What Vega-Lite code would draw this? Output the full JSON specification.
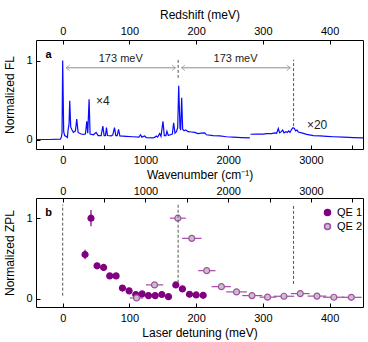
{
  "$schema": "https://vega.github.io/schema/vega-lite/v6.json",
  "padding": {"left": 3, "top": 7, "right": 5, "bottom": 2},
  "spacing": 3,
  "resolve": {"scale": {"fill": "independent", "stroke": "independent", "shape": "independent"}, "legend": {"fill": "independent", "stroke": "independent", "shape": "independent"}},
  "config": {
    "font": "Liberation Sans",
    "view": {"stroke": "black", "strokeWidth": 1},
    "axis": {"domain": false, "grid": false, "tickColor": "black", "tickSize": -4, "labelPadding": 8, "labelFontSize": 11, "labelColor": "black", "titleFontSize": 12, "titleFontWeight": "normal", "titleColor": "black", "labelFlush": false, "labelOverlap": false, "titlePadding": 4},
    "legend": {"labelFontSize": 11, "labelColor": "black", "symbolSize": 36, "padding": 0, "rowPadding": 1, "labelOffset": 4}
  },
  "datasets": {
    "spectrum": [
      {"wn": -322, "fl": 0.0, "seg": 1}, {"wn": -162, "fl": 0.0, "seg": 1}, {"wn": -28, "fl": 0.005, "seg": 1}, {"wn": -16, "fl": 0.03, "seg": 1}, {"wn": -8, "fl": 0.08, "seg": 1}, {"wn": 0, "fl": 1.0, "seg": 1}, {"wn": 12, "fl": 0.1, "seg": 1}, {"wn": 24, "fl": 0.05, "seg": 1}, {"wn": 40, "fl": 0.04, "seg": 1}, {"wn": 57, "fl": 0.025, "seg": 1},
      {"wn": 65, "fl": 0.12, "seg": 1}, {"wn": 77, "fl": 0.2, "seg": 1}, {"wn": 85, "fl": 0.49, "seg": 1}, {"wn": 97, "fl": 0.16, "seg": 1}, {"wn": 113, "fl": 0.12, "seg": 1}, {"wn": 129, "fl": 0.09, "seg": 1}, {"wn": 154, "fl": 0.11, "seg": 1}, {"wn": 170, "fl": 0.26, "seg": 1}, {"wn": 186, "fl": 0.09, "seg": 1}, {"wn": 222, "fl": 0.07, "seg": 1},
      {"wn": 250, "fl": 0.065, "seg": 1}, {"wn": 275, "fl": 0.07, "seg": 1}, {"wn": 291, "fl": 0.23, "seg": 1}, {"wn": 303, "fl": 0.08, "seg": 1}, {"wn": 319, "fl": 0.51, "seg": 1}, {"wn": 331, "fl": 0.07, "seg": 1}, {"wn": 372, "fl": 0.06, "seg": 1}, {"wn": 404, "fl": 0.09, "seg": 1}, {"wn": 428, "fl": 0.05, "seg": 1}, {"wn": 465, "fl": 0.05, "seg": 1},
      {"wn": 485, "fl": 0.17, "seg": 1}, {"wn": 501, "fl": 0.05, "seg": 1}, {"wn": 517, "fl": 0.05, "seg": 1}, {"wn": 529, "fl": 0.15, "seg": 1}, {"wn": 541, "fl": 0.05, "seg": 1}, {"wn": 586, "fl": 0.045, "seg": 1}, {"wn": 606, "fl": 0.06, "seg": 1}, {"wn": 626, "fl": 0.15, "seg": 1}, {"wn": 642, "fl": 0.05, "seg": 1}, {"wn": 659, "fl": 0.05, "seg": 1},
      {"wn": 675, "fl": 0.13, "seg": 1}, {"wn": 691, "fl": 0.045, "seg": 1}, {"wn": 768, "fl": 0.04, "seg": 1}, {"wn": 848, "fl": 0.035, "seg": 1}, {"wn": 921, "fl": 0.03, "seg": 1}, {"wn": 941, "fl": 0.06, "seg": 1}, {"wn": 957, "fl": 0.03, "seg": 1}, {"wn": 990, "fl": 0.045, "seg": 1}, {"wn": 1010, "fl": 0.025, "seg": 1}, {"wn": 1091, "fl": 0.02, "seg": 1},
      {"wn": 1115, "fl": 0.03, "seg": 1}, {"wn": 1131, "fl": 0.045, "seg": 1}, {"wn": 1147, "fl": 0.03, "seg": 1}, {"wn": 1172, "fl": 0.075, "seg": 1}, {"wn": 1188, "fl": 0.04, "seg": 1}, {"wn": 1212, "fl": 0.23, "seg": 1}, {"wn": 1228, "fl": 0.05, "seg": 1}, {"wn": 1248, "fl": 0.05, "seg": 1}, {"wn": 1260, "fl": 0.105, "seg": 1}, {"wn": 1277, "fl": 0.05, "seg": 1},
      {"wn": 1301, "fl": 0.06, "seg": 1}, {"wn": 1325, "fl": 0.07, "seg": 1}, {"wn": 1341, "fl": 0.21, "seg": 1}, {"wn": 1357, "fl": 0.08, "seg": 1}, {"wn": 1374, "fl": 0.1, "seg": 1}, {"wn": 1390, "fl": 0.15, "seg": 1}, {"wn": 1402, "fl": 0.68, "seg": 1}, {"wn": 1418, "fl": 0.14, "seg": 1}, {"wn": 1426, "fl": 0.12, "seg": 1}, {"wn": 1438, "fl": 0.53, "seg": 1},
      {"wn": 1450, "fl": 0.13, "seg": 1}, {"wn": 1467, "fl": 0.11, "seg": 1}, {"wn": 1487, "fl": 0.12, "seg": 1}, {"wn": 1515, "fl": 0.1, "seg": 1}, {"wn": 1555, "fl": 0.095, "seg": 1}, {"wn": 1596, "fl": 0.09, "seg": 1}, {"wn": 1636, "fl": 0.075, "seg": 1}, {"wn": 1677, "fl": 0.08, "seg": 1}, {"wn": 1717, "fl": 0.085, "seg": 1}, {"wn": 1737, "fl": 0.06, "seg": 1},
      {"wn": 1818, "fl": 0.05, "seg": 1}, {"wn": 1899, "fl": 0.045, "seg": 1}, {"wn": 1980, "fl": 0.035, "seg": 1}, {"wn": 2061, "fl": 0.03, "seg": 1}, {"wn": 2161, "fl": 0.025, "seg": 1}, {"wn": 2262, "fl": 0.02, "seg": 1},
      {"wn": 2270, "fl": 0.067, "seg": 2}, {"wn": 2343, "fl": 0.07, "seg": 2}, {"wn": 2424, "fl": 0.068, "seg": 2}, {"wn": 2464, "fl": 0.075, "seg": 2}, {"wn": 2525, "fl": 0.075, "seg": 2}, {"wn": 2565, "fl": 0.085, "seg": 2}, {"wn": 2586, "fl": 0.08, "seg": 2}, {"wn": 2606, "fl": 0.14, "seg": 2}, {"wn": 2622, "fl": 0.085, "seg": 2}, {"wn": 2642, "fl": 0.1, "seg": 2},
      {"wn": 2659, "fl": 0.12, "seg": 2}, {"wn": 2675, "fl": 0.085, "seg": 2}, {"wn": 2699, "fl": 0.1, "seg": 2}, {"wn": 2715, "fl": 0.09, "seg": 2}, {"wn": 2731, "fl": 0.11, "seg": 2}, {"wn": 2747, "fl": 0.09, "seg": 2}, {"wn": 2767, "fl": 0.13, "seg": 2}, {"wn": 2783, "fl": 0.15, "seg": 2}, {"wn": 2800, "fl": 0.14, "seg": 2}, {"wn": 2816, "fl": 0.11, "seg": 2},
      {"wn": 2832, "fl": 0.12, "seg": 2}, {"wn": 2848, "fl": 0.095, "seg": 2}, {"wn": 2889, "fl": 0.085, "seg": 2}, {"wn": 2949, "fl": 0.065, "seg": 2}, {"wn": 3030, "fl": 0.05, "seg": 2}, {"wn": 3111, "fl": 0.045, "seg": 2}, {"wn": 3192, "fl": 0.04, "seg": 2}, {"wn": 3272, "fl": 0.035, "seg": 2}, {"wn": 3394, "fl": 0.03, "seg": 2}, {"wn": 3515, "fl": 0.025, "seg": 2}, {"wn": 3629, "fl": 0.022, "seg": 2}
    ],
    "arrowsA": [
      {"x1": 5, "x2": 169, "y": 0.908},
      {"x1": 178, "x2": 341, "y": 0.908}
    ],
    "headsA": [
      {"mev": 5, "y": 0.908, "dir": "left"},
      {"mev": 169, "y": 0.908, "dir": "right"},
      {"mev": 178, "y": 0.908, "dir": "left"},
      {"mev": 341, "y": 0.908, "dir": "right"}
    ],
    "dashA": [
      {"mev": 173, "y1": 0.78, "y2": 1.01},
      {"mev": 346, "y1": 0.17, "y2": 1.01}
    ],
    "labelsA": [
      {"mev": 87, "y": 1.02, "t": "173 meV"},
      {"mev": 259, "y": 1.02, "t": "173 meV"}
    ],
    "scalesA": [
      {"mev": 50, "y": 0.49, "t": "×4"},
      {"mev": 366, "y": 0.19, "t": "×20"}
    ],
    "zpl": [
      {"d": 33.5, "z": 0.55, "s": "QE 1", "ylo": 0.49, "yhi": 0.61},
      {"d": 42.4, "z": 1.0, "s": "QE 1", "ylo": 0.9, "yhi": 1.1},
      {"d": 51.5, "z": 0.41, "s": "QE 1", "ylo": 0.375, "yhi": 0.445},
      {"d": 61.3, "z": 0.39, "s": "QE 1", "ylo": 0.35, "yhi": 0.43},
      {"d": 70.5, "z": 0.285, "s": "QE 1", "ylo": 0.265, "yhi": 0.305},
      {"d": 80, "z": 0.285, "s": "QE 1", "ylo": 0.265, "yhi": 0.305},
      {"d": 89.5, "z": 0.135, "s": "QE 1", "ylo": 0.115, "yhi": 0.155},
      {"d": 99.5, "z": 0.1, "s": "QE 1", "ylo": 0.08, "yhi": 0.12},
      {"d": 109.5, "z": 0.055, "s": "QE 1", "ylo": 0.035, "yhi": 0.075},
      {"d": 119, "z": 0.062, "s": "QE 1", "ylo": 0.042, "yhi": 0.082},
      {"d": 128.6, "z": 0.041, "s": "QE 1", "ylo": 0.021, "yhi": 0.061},
      {"d": 138.6, "z": 0.041, "s": "QE 1", "ylo": 0.021, "yhi": 0.061},
      {"d": 148.6, "z": 0.055, "s": "QE 1", "ylo": 0.035, "yhi": 0.075},
      {"d": 158.5, "z": 0.028, "s": "QE 1", "ylo": 0.008, "yhi": 0.048},
      {"d": 169.5, "z": 0.173, "s": "QE 1", "ylo": 0.153, "yhi": 0.193},
      {"d": 179.4, "z": 0.124, "s": "QE 1", "ylo": 0.104, "yhi": 0.144},
      {"d": 190, "z": 0.058, "s": "QE 1", "ylo": 0.038, "yhi": 0.078},
      {"d": 200, "z": 0.049, "s": "QE 1", "ylo": 0.029, "yhi": 0.069},
      {"d": 210.5, "z": 0.045, "s": "QE 1", "ylo": 0.025, "yhi": 0.065},
      {"d": 110.7, "z": 0.012, "s": "QE 2", "xlo": 100.7, "xhi": 120.7},
      {"d": 137.6, "z": 0.174, "s": "QE 2", "xlo": 124.6, "xhi": 150.6},
      {"d": 172.5, "z": 1.0, "s": "QE 2", "xlo": 160.5, "xhi": 184.5},
      {"d": 193.4, "z": 0.75, "s": "QE 2", "xlo": 179, "xhi": 208},
      {"d": 215.8, "z": 0.35, "s": "QE 2", "xlo": 203, "xhi": 229},
      {"d": 237.8, "z": 0.152, "s": "QE 2", "xlo": 223, "xhi": 252},
      {"d": 260.5, "z": 0.087, "s": "QE 2", "xlo": 245, "xhi": 276},
      {"d": 283.6, "z": 0.041, "s": "QE 2", "xlo": 269, "xhi": 299},
      {"d": 307, "z": 0.022, "s": "QE 2", "xlo": 295, "xhi": 320},
      {"d": 331.5, "z": 0.033, "s": "QE 2", "xlo": 316, "xhi": 347},
      {"d": 356, "z": 0.066, "s": "QE 2", "xlo": 342, "xhi": 370},
      {"d": 381, "z": 0.035, "s": "QE 2", "xlo": 367, "xhi": 395},
      {"d": 406.3, "z": 0.021, "s": "QE 2", "xlo": 390, "xhi": 422},
      {"d": 432.5, "z": 0.02, "s": "QE 2", "xlo": 418, "xhi": 448}
    ],
    "dashB": [
      {"wn": 0, "y1": 0.04, "y2": 1.17},
      {"wn": 1395, "y1": 0.2, "y2": 1.17},
      {"wn": 2790, "y1": 0.186, "y2": 1.17}
    ]
  },
  "vconcat": [
    {
      "width": 327,
      "height": 109,
      "resolve": {"scale": {"x": "independent"}},
      "layer": [
        {
          "data": {"name": "spectrum"},
          "mark": {"type": "line", "color": "#0a0aff", "strokeWidth": 1.2, "clip": true},
          "encoding": {
            "x": {"field": "wn", "type": "quantitative", "scale": {"domain": [-322.6, 3629.5], "nice": false, "zero": false},
                  "axis": {"orient": "bottom", "title": "Wavenumber (cm⁻¹)", "values": [0, 500, 1000, 1500, 2000, 2500, 3000, 3500], "labelExpr": "datum.value % 1000 == 0 ? datum.label : ''", "format": "d", "labelPadding": 9}},
            "y": {"field": "fl", "type": "quantitative", "scale": {"domain": [-0.12, 1.26], "nice": false, "zero": false},
                  "axis": {"title": "Normalized FL", "values": [0, 0.5, 1], "format": "d", "labelExpr": "datum.value == 0.5 ? '' : datum.label", "titlePadding": 9}},
            "detail": {"field": "seg"}
          }
        },
        {
          "layer": [
            {
              "data": {"name": "arrowsA"},
              "mark": {"type": "rule", "color": "#8c8c8c", "strokeWidth": 1},
              "encoding": {
                "x": {"field": "x1", "type": "quantitative", "scale": {"domain": [-40, 450], "nice": false, "zero": false},
                      "axis": {"orient": "top", "title": "Redshift (meV)", "values": [0, 50, 100, 150, 200, 250, 300, 350, 400, 450], "labelExpr": "datum.value % 100 == 0 ? datum.label : ''", "labelPadding": 8, "titlePadding": 4}},
                "x2": {"field": "x2"},
                "y": {"field": "y", "type": "quantitative"}
              }
            },
            {
              "data": {"name": "headsA"},
              "mark": {"type": "point", "filled": false, "strokeWidth": 1, "size": 49, "color": "#8c8c8c"},
              "encoding": {
                "x": {"field": "mev", "type": "quantitative"},
                "y": {"field": "y", "type": "quantitative"},
                "shape": {"field": "dir", "type": "nominal", "legend": null,
                          "scale": {"domain": ["left", "right"], "range": ["M1,-0.8L0,0L1,0.8", "M-1,-0.8L0,0L-1,0.8"]}}
              }
            },
            {
              "data": {"name": "dashA"},
              "mark": {"type": "rule", "color": "#555555", "strokeWidth": 1, "strokeDash": [3, 2]},
              "encoding": {
                "x": {"field": "mev", "type": "quantitative"},
                "y": {"field": "y1", "type": "quantitative"},
                "y2": {"field": "y2"}
              }
            },
            {
              "data": {"name": "labelsA"},
              "mark": {"type": "text", "fontSize": 11, "color": "#222222", "align": "center", "baseline": "middle"},
              "encoding": {
                "x": {"field": "mev", "type": "quantitative"},
                "y": {"field": "y", "type": "quantitative"},
                "text": {"field": "t"}
              }
            },
            {
              "data": {"name": "scalesA"},
              "mark": {"type": "text", "fontSize": 12, "color": "#222222", "align": "left", "baseline": "middle"},
              "encoding": {
                "x": {"field": "mev", "type": "quantitative"},
                "y": {"field": "y", "type": "quantitative"},
                "text": {"field": "t"}
              }
            },
            {
              "data": {"values": [{"mev": -21, "y": 1.065, "t": "a"}]},
              "mark": {"type": "text", "fontSize": 11, "fontWeight": "bold", "color": "black", "align": "center", "baseline": "middle"},
              "encoding": {
                "x": {"field": "mev", "type": "quantitative"},
                "y": {"field": "y", "type": "quantitative"},
                "text": {"field": "t"}
              }
            }
          ]
        }
      ]
    },
    {
      "width": 327,
      "height": 109,
      "resolve": {"scale": {"x": "independent"}},
      "layer": [
        {
          "data": {"name": "zpl"},
          "layer": [
            {
              "transform": [{"filter": "datum.s == 'QE 2'"}],
              "mark": {"type": "rule", "color": "#a44ca6", "strokeWidth": 1.2},
              "encoding": {
                "x": {"field": "xlo", "type": "quantitative", "scale": {"domain": [-40, 450], "nice": false, "zero": false},
                      "axis": {"orient": "bottom", "title": "Laser detuning (meV)", "values": [0, 50, 100, 150, 200, 250, 300, 350, 400, 450], "labelExpr": "datum.value % 100 == 0 ? datum.label : ''", "labelPadding": 9}},
                "x2": {"field": "xhi"},
                "y": {"field": "z", "type": "quantitative", "scale": {"domain": [-0.1, 1.25], "nice": false, "zero": false},
                      "axis": {"title": "Normalized ZPL", "values": [0, 0.5, 1], "format": "d", "labelExpr": "datum.value == 0.5 ? '' : datum.label", "titlePadding": 9}}
              }
            },
            {
              "transform": [{"filter": "datum.s == 'QE 1'"}],
              "mark": {"type": "rule", "color": "#800080", "strokeWidth": 1.2},
              "encoding": {
                "x": {"field": "d", "type": "quantitative"},
                "y": {"field": "ylo", "type": "quantitative"},
                "y2": {"field": "yhi"}
              }
            },
            {
              "mark": {"type": "point", "filled": true, "opacity": 1, "size": 36, "strokeWidth": 1.2},
              "encoding": {
                "x": {"field": "d", "type": "quantitative"},
                "y": {"field": "z", "type": "quantitative"},
                "fill": {"field": "s", "type": "nominal", "scale": {"domain": ["QE 1", "QE 2"], "range": ["#800080", "#c4c4c4"]},
                         "legend": {"title": null, "orient": "none", "legendX": 286, "legendY": 9}},
                "stroke": {"field": "s", "type": "nominal", "scale": {"domain": ["QE 1", "QE 2"], "range": ["#800080", "#a44ca6"]},
                           "legend": {"title": null, "orient": "none", "legendX": 286, "legendY": 9}}
              }
            }
          ]
        },
        {
          "layer": [
            {
              "data": {"name": "dashB"},
              "mark": {"type": "rule", "color": "#555555", "strokeWidth": 1, "strokeDash": [3, 2]},
              "encoding": {
                "x": {"field": "wn", "type": "quantitative", "scale": {"domain": [-322.6, 3629.5], "nice": false, "zero": false},
                      "axis": {"orient": "top", "title": null, "values": [0, 500, 1000, 1500, 2000, 2500, 3000, 3500], "labelExpr": "datum.value % 1000 == 0 ? datum.label : ''", "format": "d", "labelPadding": 6}},
                "y": {"field": "y1", "type": "quantitative"},
                "y2": {"field": "y2"}
              }
            },
            {
              "data": {"values": [{"wn": -170, "y": 1.06, "t": "b"}]},
              "mark": {"type": "text", "fontSize": 11, "fontWeight": "bold", "color": "black", "align": "center", "baseline": "middle"},
              "encoding": {
                "x": {"field": "wn", "type": "quantitative"},
                "y": {"field": "y", "type": "quantitative"},
                "text": {"field": "t"}
              }
            }
          ]
        }
      ]
    }
  ]
}
